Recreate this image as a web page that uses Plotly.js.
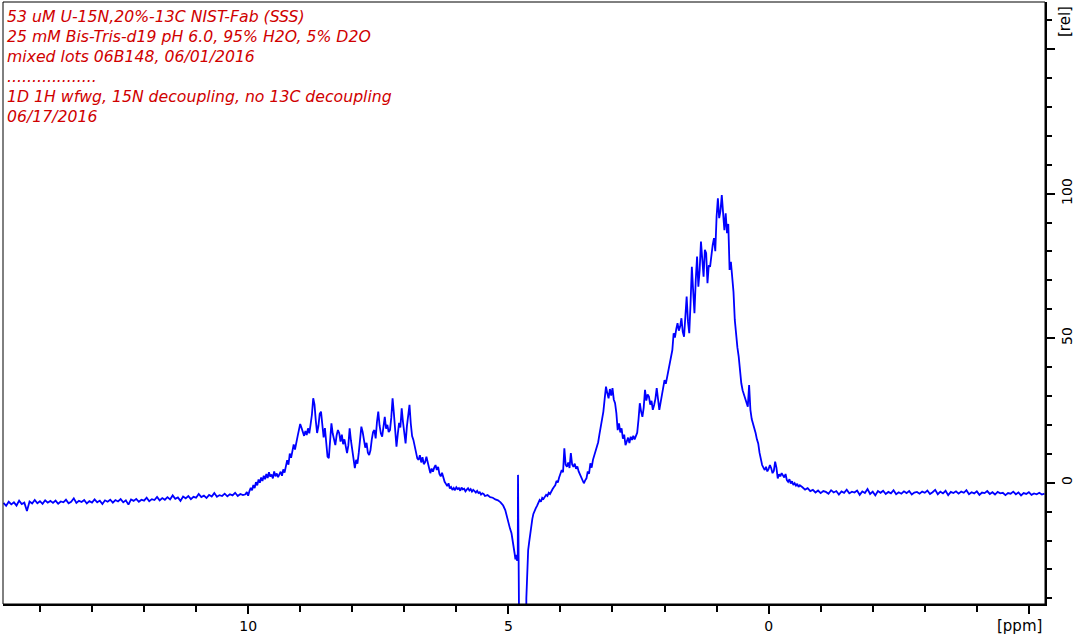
<!DOCTYPE html>
<html><head><meta charset="utf-8">
<script src="https://cdn.plot.ly/plotly-3.0.1.min.js"></script>
<style>html,body{margin:0;padding:0;background:#fff;} #chart{width:1079px;height:637px;}</style>
</head><body><div id="chart"></div>
<script>
// ---- data (ppm grids: start + step for evenly sampled segments) ----
const leftBaseStart = 14.70, leftBaseStep = -0.05;
const leftBaseIntensity = [
-7.0,-8.0,-6.6,-7.5,-6.8,-7.9,-6.2,-7.4,-6.9,-9.8,
-6.5,-7.2,-6.0,-7.1,-6.4,-7.3,-6.1,-6.9,-6.3,-7.0,
-6.2,-7.3,-6.5,-6.8,-5.9,-7.1,-6.6,-5.4,-7.0,-6.3,
-6.7,-6.0,-7.2,-6.4,-6.9,-5.8,-6.8,-6.2,-7.4,-6.1,
-6.6,-5.9,-6.9,-6.0,-6.5,-5.7,-6.8,-6.1,-7.6,-5.8,
-6.3,-5.6,-6.6,-5.9,-6.2,-5.2,-6.4,-5.7,-6.0,-4.9,
-6.1,-5.3,-5.9,-5.0,-5.8,-4.4,-5.6,-5.1,-6.3,-4.8,
-5.4,-4.6,-5.7,-4.9,-5.2,-3.9,-5.0,-4.5,-5.3,-4.2,
-4.8,-3.6,-4.9,-4.3,-4.6,-3.8,-4.7,-4.0,-4.4,-3.5,
-4.6,-3.9,-4.3];

const aromaticStart = 10.05, aromaticStep = -0.025;
const aromaticIntensity = [
-4.0,-3.2,-4.5,-2.9,-1.8,-2.6,-0.8,-1.9,
0.2,-0.9,1.1,0.0,1.8,0.6,2.4,1.2,
3.0,1.6,3.6,2.1,2.8,1.5,3.9,2.2,
3.2,1.9,2.7,3.8,2.4,4.6,3.5,5.4,
7.8,6.2,10.1,8.6,11.0,13.2,11.5,14.4,
16.0,18.2,20.3,19.0,17.4,16.2,17.9,16.5,
18.8,17.1,20.2,23.5,29.2,27.0,21.4,17.2,
19.6,23.8,24.6,20.1,15.7,18.9,12.5,9.0,
8.5,13.6,20.5,17.0,14.9,13.0,16.4,18.2,
17.1,14.2,16.6,13.3,15.0,11.8,10.2,12.9,
18.8,14.6,11.0,8.2,5.0,7.9,6.6,10.3,
14.7,19.4,17.6,15.2,12.1,13.8,10.4,9.6,
11.2,14.9,17.5,18.2,15.3,21.0,24.6,19.8,
17.0,15.9,20.4,22.8,18.7,20.0,17.5,18.2,
22.5,29.2,24.0,18.3,12.5,16.8,20.7,19.1,
25.7,21.0,17.2,13.6,19.5,22.8,26.9,20.4,
16.1,14.8,12.6,10.3,8.4,7.9,9.5,7.0,
8.8,6.4,7.1,9.0,7.3,5.0,3.3,4.9,
3.8,5.2,6.1,4.4,5.5,3.0,2.2,3.4,
1.6,0.3,-0.4,-1.2,-0.2,-2.0,-1.5,-2.5,
-1.8,-2.6,-1.6,-2.2,-1.9,-2.8,-1.7,-2.3,
-2.1,-3.0,-2.4,-1.9,-2.7,-2.2,-3.1,-2.5,
-2.9,-3.4,-2.8,-3.6,-3.3,-4.1,-3.7];

const waterPpm = [5.475,5.45,5.40,5.35,5.30,5.25,5.20,5.15,5.10,5.06,5.03,5.00,4.97,4.94,4.91,4.88,4.865,4.85,4.835,4.82,
4.815,4.805,4.75,4.70,4.665,4.655,4.64,4.62,4.60,4.58,4.56,4.54,4.52,4.50,4.475,4.45,4.425,4.40,4.375,4.35,4.325];
const waterIntensity = [-3.9,-4.6,-4.3,-5.0,-5.2,-5.8,-6.1,-6.8,-7.9,-9.5,-11.8,-13.5,-15.8,-17.5,-20.5,-24.5,-26.5,-25.0,-27.0,-25.5,
2.7,-150,-160,-160,-150,-40,-28,-23.3,-20.5,-17.0,-14.2,-12.5,-10.8,-9.6,-8.9,-8.0,-7.2,-6.0,-6.6,-5.2,-5.6];

const aliphaticStart = 4.30, aliphaticStep = -0.025;
const aliphaticIntensity = [
-5.0,-4.2,-4.6,-3.5,-3.9,-2.8,-2.2,-1.5,
-0.9,0.6,0.1,1.8,2.9,4.4,3.6,11.9,
6.2,5.5,7.0,5.1,10.2,6.3,5.5,6.6,
4.8,5.6,3.9,2.7,1.8,0.9,-0.2,0.8,
1.5,3.9,3.1,6.7,5.2,7.9,9.4,11.0,
12.5,14.0,16.8,19.5,21.7,24.6,29.0,33.2,
31.0,29.2,32.4,30.1,32.7,28.8,27.5,24.0,
18.2,20.5,17.4,18.8,15.2,16.6,13.0,14.1,
15.6,13.7,15.9,14.8,16.2,15.0,15.9,17.3,
21.9,27.5,24.6,22.8,26.0,32.1,28.4,30.5,
29.8,27.0,28.3,25.2,26.9,29.0,32.7,28.1,
25.2,27.8,30.4,33.0,35.5,34.2,36.8,39.0,
41.6,44.0,45.9,51.7,50.2,53.1,55.2,52.6,
54.0,56.9,52.2,50.5,57.0,64.4,55.8,51.7,
62.0,74.7,66.3,58.6,70.1,78.2,67.8,73.5,
83.4,76.0,71.3,80.6,79.4,69.0,75.2,74.7,
78.8,82.2,84.6,80.1,92.0,98.4,91.5,94.0,
99.5,93.0,87.4,93.2,86.3,89.5,73.6,76.4,
71.3,66.0,56.3,50.5,46.8,43.6,38.0,34.4,
32.0,30.5,29.8,27.4,26.3,33.8,25.2,22.0,
20.6,19.4,17.2,15.0,13.6,10.4,8.1,6.1,
5.2,4.4,5.5,3.9,4.8,6.1,5.0,3.3,
4.1,7.3,5.2,1.5,2.9,2.2,3.3,2.4,
1.8,3.0,0.9,0.3,1.2,-0.3,0.5,-0.8,
-0.2,-1.0,-0.4,-1.5,-0.9];

const rightBaseStart = -0.65, rightBaseStep = -0.05;
const rightBaseIntensity = [
-1.6,-2.4,-1.9,-2.9,-2.5,-3.4,-2.7,-3.6,-2.9,-3.2,
-3.8,-2.6,-3.4,-2.9,-4.1,-3.0,-3.5,-2.4,-3.7,-3.1,
-3.4,-2.7,-4.2,-3.0,-3.6,-2.2,-3.9,-3.1,-4.4,-2.9,
-3.5,-2.8,-3.9,-3.2,-3.7,-2.6,-4.0,-3.3,-3.8,-3.0,
-3.6,-2.9,-4.1,-3.4,-3.2,-3.8,-3.1,-3.5,-2.7,-3.9,
-3.3,-2.5,-4.0,-3.1,-3.7,-2.8,-4.3,-3.2,-3.6,-3.0,
-3.8,-3.1,-3.5,-2.6,-4.0,-3.3,-3.7,-3.0,-4.2,-3.4,
-3.6,-2.9,-3.9,-3.3,-4.1,-3.2,-3.7,-3.5,-4.3,-3.6,
-3.8,-3.1,-4.0,-3.4,-4.4,-3.6,-3.9,-3.3,-4.2,-3.7,
-4.0,-3.5,-4.1,-3.8];

const xTickVals = [10, 5, 0, -5];
const xTickText = ['10', '5', '0', ''];
const yTickVals = [0, 50, 100, 150];
const yTickText = ['0', '50', '100', ''];
const headerLines = [
  '53 uM U-15N,20%-13C NIST-Fab (SSS)',
  '25 mM Bis-Tris-d19 pH 6.0, 95% H2O, 5% D2O',
  'mixed lots 06B148, 06/01/2016',
  '..................',
  '1D 1H wfwg, 15N decoupling, no 13C decoupling',
  '06/17/2016'
];
const xUnit = '[ppm]';
const yUnit = '[rel]';

// ---- assemble spectrum ----
function grid(start, step, n) {
  const out = [];
  for (let i = 0; i < n; i++) out.push(Math.round((start + i * step) * 10000) / 10000);
  return out;
}
const ppm = [].concat(
  grid(leftBaseStart, leftBaseStep, leftBaseIntensity.length),
  grid(aromaticStart, aromaticStep, aromaticIntensity.length),
  waterPpm,
  grid(aliphaticStart, aliphaticStep, aliphaticIntensity.length),
  grid(rightBaseStart, rightBaseStep, rightBaseIntensity.length)
);
const intensity = [].concat(leftBaseIntensity, aromaticIntensity, waterIntensity, aliphaticIntensity, rightBaseIntensity);

// ---- layout geometry ----
const W = 1079, H = 637;
const M = {l: 3, r: 34, t: 2, b: 33};
const PW = W - M.l - M.r, PH = H - M.t - M.b;
const px2x = px => (px - M.l) / PW;
const py2y = py => (H - M.b - py) / PH;

const red = '#d00000';
const annotations = [];
const lineY = [16, 36, 56, 76, 96, 116];
headerLines.forEach((t, i) => {
  annotations.push({
    text: t, xref: 'paper', yref: 'paper', x: px2x(5), y: py2y(lineY[i]),
    xanchor: 'left', yanchor: 'middle', showarrow: false,
    font: {family: 'DejaVu Sans', size: 15.7, color: red, style: 'italic'}
  });
});
annotations.push({
  text: xUnit, xref: 'paper', yref: 'paper', x: px2x(1019), y: py2y(626),
  xanchor: 'center', yanchor: 'middle', showarrow: false,
  font: {family: 'DejaVu Sans', size: 15, color: '#000'}
});
annotations.push({
  text: yUnit, xref: 'paper', yref: 'paper', x: px2x(1065), y: py2y(22),
  xanchor: 'center', yanchor: 'middle', showarrow: false, textangle: -90,
  font: {family: 'DejaVu Sans', size: 15, color: '#000'}
});

const trace = {
  x: ppm, y: intensity, type: 'scatter', mode: 'lines',
  line: {color: '#0000ff', width: 1.8},
  hoverinfo: 'skip'
};

const layout = {
  width: W, height: H,
  margin: M,
  paper_bgcolor: '#fff', plot_bgcolor: '#fff',
  showlegend: false,
  font: {family: 'DejaVu Sans', size: 14, color: '#000'},
  xaxis: {
    range: [14.71, -5.31], showgrid: false, zeroline: false,
    showline: true, linecolor: '#000', linewidth: 2,
    tickmode: 'array', tickvals: xTickVals, ticktext: xTickText,
    ticks: 'outside', ticklen: 8, tickwidth: 2, tickcolor: '#000',
    tickfont: {family: 'DejaVu Sans', size: 14, color: '#000'},
    minor: {tickmode: 'linear', tick0: 0, dtick: 1, ticks: 'outside', ticklen: 6, tickwidth: 2, tickcolor: '#000', showgrid: false}
  },
  yaxis: {
    range: [-41.97, 166.3], side: 'right', showgrid: false, zeroline: false,
    showline: true, linecolor: '#000', linewidth: 2,
    tickmode: 'array', tickvals: yTickVals, ticktext: yTickText,
    ticks: 'outside', ticklen: 8, tickwidth: 2, tickcolor: '#000', tickangle: -90,
    tickfont: {family: 'DejaVu Sans', size: 14, color: '#000'},
    minor: {tickmode: 'linear', tick0: 0, dtick: 10, ticks: 'outside', ticklen: 5, tickwidth: 2, tickcolor: '#000', showgrid: false}
  },
  shapes: [{type: 'rect', xref: 'paper', yref: 'paper', x0: 0, x1: 1, y0: 0, y1: 1, line: {color: '#000', width: 1}}],
  annotations: annotations
};

Plotly.newPlot('chart', [trace], layout, {displayModeBar: false, staticPlot: true});
</script>
</body></html>
